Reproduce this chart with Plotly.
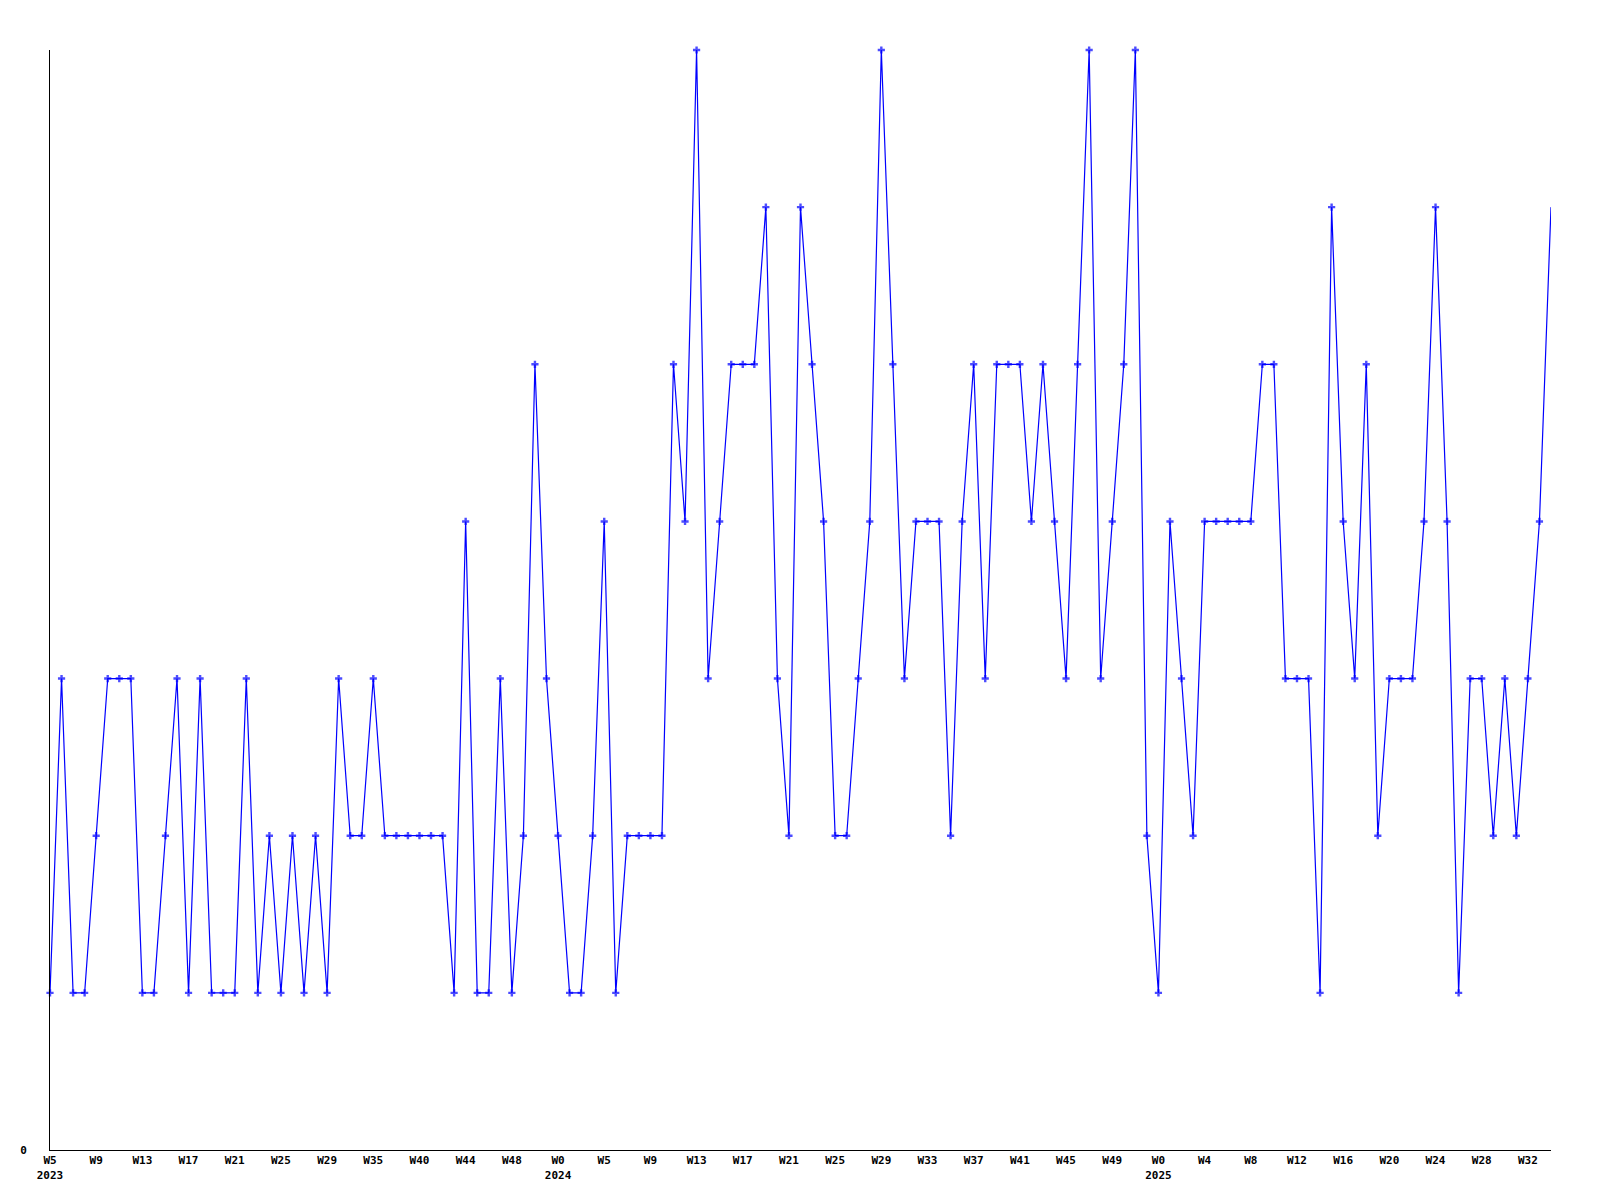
import plotly.graph_objects as go

# Week labels of each point (one point per week, some weeks missing in the source)
weeks = (
    ["W%d" % w for w in range(5, 30)]
    + ["W30", "W31", "W33", "W35", "W36", "W37", "W39"]
    + ["W%d" % w for w in range(40, 52)]
    + ["W0", "W1", "W2", "W3"]
    + ["W%d" % w for w in range(5, 53)]
    + ["W%d" % w for w in range(0, 35)]
)
years = [2023] * 44 + [2024] * 52 + [2025] * 35

values = [
    1, 3, 1, 1, 2, 3, 3, 3, 1, 1, 2, 3, 1, 3, 1, 1, 1, 3, 1, 2,
    1, 2, 1, 2, 1, 3, 2, 2, 3, 2, 2, 2, 2, 2, 2, 1, 4, 1, 1, 3,
    1, 2, 5, 3, 2, 1, 1, 2, 4, 1, 2, 2, 2, 2, 5, 4, 7, 3, 4, 5,
    5, 5, 6, 3, 2, 6, 5, 4, 2, 2, 3, 4, 7, 5, 3, 4, 4, 4, 2, 4,
    5, 3, 5, 5, 5, 4, 5, 4, 3, 5, 7, 3, 4, 5, 7, 2, 1, 4, 3, 2,
    4, 4, 4, 4, 4, 5, 5, 3, 3, 3, 1, 6, 4, 3, 5, 2, 3, 3, 3, 4,
    6, 4, 1, 3, 3, 2, 3, 2, 3, 4, 6,
]

LABEL_STEP = 4

x = list(range(len(values)))
tickvals = x[::LABEL_STEP]
ticktext = []
prev_year = None
for i in tickvals:
    if years[i] != prev_year:
        ticktext.append("%s<br>%d" % (weeks[i], years[i]))
    else:
        ticktext.append(weeks[i])
    prev_year = years[i]

marker_sizes = [6] * (len(values) - 1) + [0]

fig = go.Figure(
    go.Scatter(
        x=x,
        y=values,
        mode="lines+markers",
        line=dict(color="#0000ff", width=1.2),
        marker=dict(symbol="cross", size=marker_sizes, color="#0000ff", line=dict(width=0)),
        text=["%s %d" % (w, y) for w, y in zip(weeks, years)],
        hovertemplate="%{text}: %{y}<extra></extra>",
        cliponaxis=False,
    )
)

font = dict(family="DejaVu Sans Mono", size=11, color="#000000", weight="bold")

fig.update_layout(
    width=1592,
    height=1192,
    margin=dict(l=42, r=49, t=42, b=50),
    paper_bgcolor="#ffffff",
    plot_bgcolor="#ffffff",
    showlegend=False,
    font=font,
)
fig.update_xaxes(
    range=[0, len(values) - 1],
    tickmode="array",
    tickvals=tickvals,
    ticktext=ticktext,
    showgrid=False,
    zeroline=False,
    showline=True,
    linecolor="#000000",
    linewidth=1,
    ticks="",
    tickfont=font,
)
fig.update_yaxes(
    range=[0, 7],
    tickmode="array",
    tickvals=[0],
    ticktext=["0"],
    showgrid=False,
    zeroline=False,
    showline=True,
    linecolor="#000000",
    linewidth=1,
    ticks="",
    tickfont=font,
    ticklabelstandoff=20,
)

fig.write_html("out.html")
